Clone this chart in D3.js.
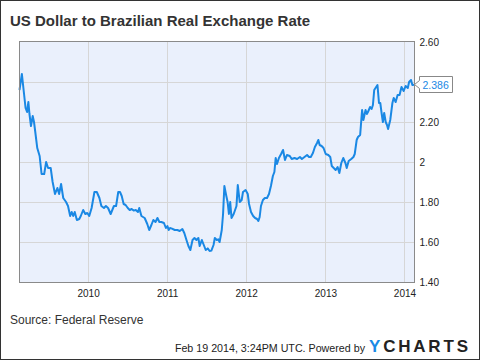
<!DOCTYPE html>
<html><head><meta charset="utf-8">
<script src="https://cdnjs.cloudflare.com/ajax/libs/d3/7.8.5/d3.min.js"></script>
<style>html,body{margin:0;padding:0;background:#fff;}svg{display:block;font-family:"Liberation Sans",Arial,sans-serif;}</style>
</head><body><svg id="c" width="480" height="360"></svg>
<script>
const title = "US Dollar to Brazilian Real Exchange Rate";
const sourceText = "Source: Federal Reserve";
const footerText = "Feb 19 2014, 3:24PM UTC. Powered by";
const gridValues = [2.4, 2.2, 2.0, 1.8, 1.6];
const yTicks = [2.6, 2.2, 2.0, 1.8, 1.6, 1.4];
const yTickLabels = ["2.60", "2.20", "2", "1.80", "1.60", "1.40"];
const xTickYears = ["2010", "2011", "2012", "2013", "2014"];
const lastLabel = "2.386";
const dates = [
"2009-02-16","2009-02-27","2009-03-09","2009-03-16","2009-03-23","2009-03-29","2009-04-03","2009-04-10","2009-04-18","2009-04-24",
"2009-05-01","2009-05-09","2009-05-20","2009-05-29","2009-06-10","2009-06-19","2009-06-28","2009-07-10","2009-07-19","2009-07-30",
"2009-08-10","2009-08-18","2009-08-27","2009-09-06","2009-09-19","2009-09-28","2009-10-08","2009-10-15","2009-10-22","2009-10-29",
"2009-11-08","2009-11-19","2009-11-26","2009-12-07","2009-12-17","2009-12-26","2010-01-04","2010-01-15","2010-01-28","2010-02-08",
"2010-02-20","2010-03-01","2010-03-13","2010-03-22","2010-04-01","2010-04-13","2010-04-28","2010-05-08","2010-05-18","2010-05-26",
"2010-06-03","2010-06-12","2010-06-21","2010-07-01","2010-07-10","2010-07-19","2010-07-28","2010-08-07","2010-08-17","2010-08-23",
"2010-09-02","2010-09-17","2010-09-29","2010-10-08","2010-10-18","2010-10-27","2010-11-06","2010-11-15","2010-11-24","2010-12-03",
"2010-12-15","2010-12-24","2010-12-31","2011-01-06","2011-01-12","2011-01-21","2011-02-03","2011-02-15","2011-02-26","2011-03-10",
"2011-03-19","2011-03-29","2011-04-07","2011-04-16","2011-04-26","2011-05-05","2011-05-14","2011-05-23","2011-05-29","2011-06-08",
"2011-06-17","2011-06-26","2011-07-05","2011-07-14","2011-07-22","2011-08-01","2011-08-07","2011-08-16","2011-08-23","2011-08-29",
"2011-09-08","2011-09-14","2011-09-20","2011-09-29","2011-10-05","2011-10-11","2011-10-17","2011-10-23","2011-11-02","2011-11-15",
"2011-11-21","2011-11-30","2011-12-09","2011-12-15","2011-12-27","2012-01-06","2012-01-12","2012-01-21","2012-01-31","2012-02-09",
"2012-02-18","2012-02-24","2012-03-01","2012-03-07","2012-03-16","2012-03-25","2012-04-04","2012-04-13","2012-04-22","2012-05-01",
"2012-05-08","2012-05-14","2012-05-20","2012-05-29","2012-06-08","2012-06-17","2012-06-26","2012-07-05","2012-07-18","2012-07-27",
"2012-08-09","2012-08-21","2012-09-03","2012-09-12","2012-09-24","2012-10-06","2012-10-15","2012-10-23","2012-11-02","2012-11-11",
"2012-11-21","2012-11-27","2012-12-03","2012-12-12","2012-12-21","2012-12-31","2013-01-12","2013-01-21","2013-01-28","2013-02-06",
"2013-02-15","2013-02-24","2013-03-04","2013-03-13","2013-03-22","2013-04-01","2013-04-07","2013-04-16","2013-04-28","2013-05-08",
"2013-05-14","2013-05-23","2013-05-29","2013-06-08","2013-06-17","2013-06-23","2013-07-03","2013-07-09","2013-07-14","2013-07-24",
"2013-07-31","2013-08-06","2013-08-12","2013-08-21","2013-08-27","2013-09-03","2013-09-09","2013-09-15","2013-09-21","2013-09-27",
"2013-10-04","2013-10-10","2013-10-15","2013-10-25","2013-11-04","2013-11-10","2013-11-19","2013-11-28","2013-12-07","2013-12-16",
"2013-12-26","2014-01-04","2014-01-14","2014-01-20","2014-01-29","2014-02-04","2014-02-14"];
const values = [
2.36,2.44,2.34,2.27,2.25,2.30,2.24,2.18,2.23,2.20,
2.14,2.07,2.03,1.94,1.94,2.00,1.97,1.97,1.90,1.84,
1.87,1.84,1.89,1.82,1.80,1.78,1.73,1.75,1.73,1.75,
1.71,1.715,1.73,1.76,1.74,1.745,1.73,1.77,1.85,1.85,
1.82,1.78,1.77,1.78,1.77,1.74,1.78,1.78,1.85,1.85,
1.83,1.79,1.785,1.77,1.76,1.765,1.757,1.76,1.75,1.77,
1.73,1.72,1.69,1.66,1.685,1.71,1.70,1.72,1.70,1.70,
1.695,1.67,1.68,1.66,1.67,1.667,1.66,1.66,1.655,1.665,
1.645,1.61,1.58,1.56,1.61,1.62,1.61,1.62,1.58,1.61,
1.585,1.56,1.568,1.555,1.557,1.585,1.62,1.61,1.613,1.60,
1.66,1.74,1.88,1.83,1.80,1.74,1.80,1.72,1.74,1.78,
1.885,1.80,1.81,1.85,1.86,1.84,1.79,1.75,1.73,1.72,
1.715,1.705,1.725,1.78,1.81,1.82,1.82,1.84,1.88,1.93,
1.95,2.02,1.99,2.02,2.04,2.06,2.01,2.035,2.03,2.015,
2.02,2.015,2.025,2.015,2.025,2.035,2.025,2.025,2.045,2.075,
2.095,2.11,2.085,2.08,2.07,2.04,2.035,2.025,1.98,1.97,
1.96,1.975,1.945,1.995,2.02,1.995,1.97,2.005,2.015,2.025,
2.04,2.11,2.125,2.135,2.26,2.21,2.26,2.24,2.25,2.275,
2.265,2.285,2.36,2.375,2.385,2.295,2.295,2.245,2.20,2.245,
2.20,2.185,2.165,2.21,2.295,2.32,2.30,2.335,2.335,2.375,
2.355,2.38,2.37,2.40,2.41,2.385,2.386];

const parse = d3.timeParse("%Y-%m-%d");
const data = dates.map((d, i) => ({date: parse(d), value: values[i]}));
const svg = d3.select("#c");
const L = 19.5, R = 414.5, T = 41.5, B = 282.5;

svg.append("rect").attr("x",0.5).attr("y",0.5).attr("width",479).attr("height",359)
  .attr("fill","#fff").attr("stroke","#333").attr("stroke-width",1);

svg.append("text").attr("x",10).attr("y",26).text(title)
  .attr("font-size",15).attr("font-weight","bold").attr("fill","#333");

const x = d3.scaleTime().domain([parse("2009-02-16"), parse("2014-02-14")]).range([L, R]);
const y = d3.scaleLinear().domain([1.4, 2.6]).range([282, 42]);

svg.append("rect").attr("x",L).attr("y",T).attr("width",R-L).attr("height",B-T).attr("fill","#eaf0fc");

// gridlines
const g = svg.append("g");
g.selectAll("line.h").data(gridValues).join("line")
  .attr("x1",L).attr("x2",R).attr("y1",d=>Math.round(y(d))+0.5).attr("y2",d=>Math.round(y(d))+0.5)
  .attr("stroke","#d6d6d6").attr("stroke-width",1);
const yearDates = xTickYears.map(s => parse(s + "-01-01"));
g.selectAll("line.v").data(yearDates).join("line")
  .attr("y1",T).attr("y2",B).attr("x1",d=>Math.round(x(d))-0.5).attr("x2",d=>Math.round(x(d))-0.5)
  .attr("stroke","#d6d6d6").attr("stroke-width",1);

// line
svg.append("path").datum(data)
  .attr("d", d3.line().x(d=>x(d.date)).y(d=>y(d.value)))
  .attr("fill","none").attr("stroke","#1a88e4").attr("stroke-width",2).attr("stroke-linejoin","round");

svg.append("rect").attr("x",L).attr("y",T).attr("width",R-L).attr("height",B-T)
  .attr("fill","none").attr("stroke","#8a8a8a").attr("stroke-width",1);

// y axis labels
const yAxis = d3.axisRight(y).tickValues(yTicks).tickSize(0).tickPadding(5)
  .tickFormat((d,i)=>yTickLabels[i]);
const ya = svg.append("g").attr("transform",`translate(${R},0)`).call(yAxis);
ya.select(".domain").remove();
ya.selectAll("text").attr("font-size",10).attr("fill","#222").attr("font-family","Liberation Sans, Arial, sans-serif");

// x axis labels
const xAxis = d3.axisBottom(x).tickValues(yearDates).tickSize(0).tickPadding(7)
  .tickFormat((d,i)=>xTickYears[i]);
const xa = svg.append("g").attr("transform",`translate(-0.5,${B})`).call(xAxis);
xa.select(".domain").remove();
xa.selectAll("text").attr("font-size",10).attr("fill","#222").attr("font-family","Liberation Sans, Arial, sans-serif");

// last value callout
const last = data[data.length-1];
const cy = Math.round(y(last.value)) - 0.5;
const bx = 419.5, bw = 33, bh = 16;
svg.append("path")
  .attr("d", `M${x(last.date)},${cy} L${bx},${cy-4} L${bx},${cy-bh/2} L${bx+bw},${cy-bh/2} L${bx+bw},${cy+bh/2} L${bx},${cy+bh/2} L${bx},${cy+4} Z`)
  .attr("fill","#fff").attr("stroke","#888").attr("stroke-width",1);
svg.append("text").attr("x",bx+3).attr("y",cy+4).text(lastLabel)
  .attr("font-size",10.5).attr("fill","#1a88e4");

svg.append("text").attr("x",10).attr("y",323.5).text(sourceText)
  .attr("font-size",12).attr("fill","#333");
svg.append("text").attr("x",365).attr("y",351.5).attr("text-anchor","end").text(footerText)
  .attr("font-size",10.7).attr("fill","#222");
const logo = svg.append("text").attr("x",369).attr("y",352).attr("font-size",17).attr("font-weight","900")
  .attr("letter-spacing",2.8);
logo.append("tspan").attr("fill","#1a8ae6").text("Y");
logo.append("tspan").attr("fill","#222").text("CHARTS");
</script></body></html>
